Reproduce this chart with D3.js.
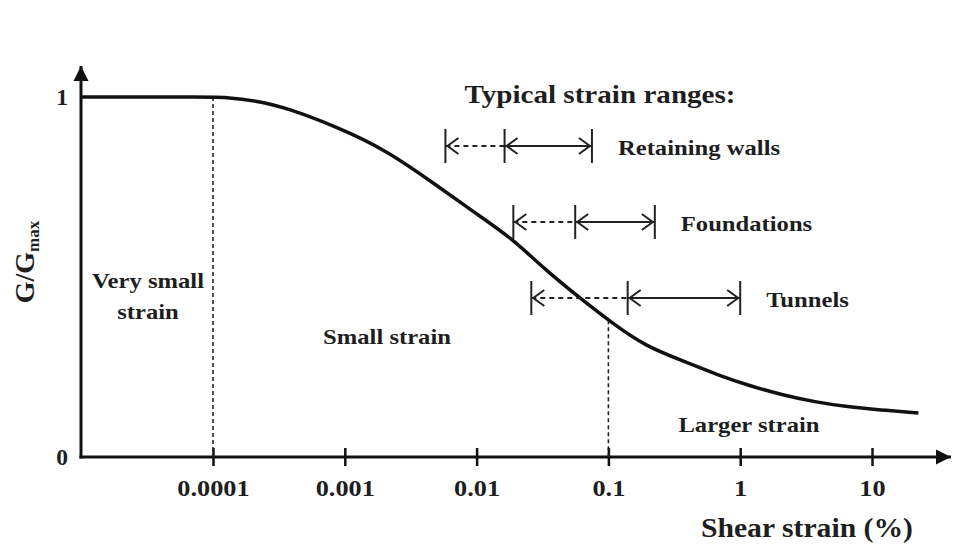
<!DOCTYPE html>
<html>
<head>
<meta charset="utf-8">
<script src="https://cdn.jsdelivr.net/npm/d3@7"></script>
<style>
  body { margin: 0; background: #fff; }
  svg text { font-family: "Liberation Serif", "Times New Roman", serif; font-weight: bold; fill: #1e1e1e; }
</style>
</head>
<body>
<svg width="953" height="547"></svg>
<script>
// shear strain (%) and G/Gmax
var strain = [0.00001, 0.0001, 0.000118, 0.00022, 0.000365, 0.000845, 0.00207, 0.00518, 0.00947, 0.0185, 0.0319, 0.0659, 0.107, 0.19, 0.379, 0.671, 1.2, 2.11, 3.68, 6.55, 11.5, 22.5];
var gRatio = [1, 1, 1, 0.989, 0.969, 0.919, 0.853, 0.75, 0.681, 0.608, 0.525, 0.431, 0.372, 0.308, 0.265, 0.228, 0.197, 0.172, 0.153, 0.139, 0.131, 0.122];

var xTicks = [0.0001, 0.001, 0.01, 0.1, 1, 10];
var xTickLabels = ["0.0001", "0.001", "0.01", "0.1", "1", "10"];
var yTicks = [0, 1];

// typical strain ranges: dashed from low to mid, solid from mid to high
var rangeNames = ["Retaining walls", "Foundations", "Tunnels"];
var rangeLow = [0.0058, 0.019, 0.026];
var rangeMid = [0.0163, 0.056, 0.14];
var rangeHigh = [0.075, 0.225, 1];

// region boundaries (strain, G/Gmax where the dashed line stops)
var boundStrain = [0.0001, 0.1];
var boundTop = [1, 0.38];

var svg = d3.select("svg");

var x = d3.scaleLog().domain([0.0001, 10]).range([213, 872]);
var y = d3.scaleLinear().domain([0, 1]).range([457, 97]);
var x0 = 81;
var stretch = "scale(1.12,1)"; // the lettering in the original is a bit wide

function label(txt, px, py, size, anchor) {
    return svg.append("text")
        .attr("transform", "translate(" + px + "," + py + ") " + stretch)
        .attr("text-anchor", anchor || "middle")
        .attr("font-size", size)
        .text(txt);
}

// arrow heads
svg.append("defs").append("marker")
    .attr("id", "arrow")
    .attr("viewBox", "0 0 10 10")
    .attr("refX", 10).attr("refY", 5)
    .attr("markerWidth", 5).attr("markerHeight", 5.2)
    .attr("markerUnits", "strokeWidth")
    .attr("orient", "auto")
    .append("path")
    .attr("d", "M0,0 L10,5 L0,10 Z")
    .attr("fill", "#111");

// x axis
var xAxis = svg.append("g")
    .attr("transform", "translate(0," + y(0) + ")")
    .call(d3.axisBottom(x).tickValues(xTicks).tickFormat(function(d, i) { return xTickLabels[i]; }).tickSize(9).tickPadding(13));
xAxis.select(".domain").remove();
xAxis.selectAll(".tick line").attr("y1", -9).attr("stroke", "#111").attr("stroke-width", 2.5);
xAxis.selectAll(".tick text").attr("font-size", 23.5).attr("fill", "#1e1e1e").attr("transform", stretch)
    .style("font-family", "Liberation Serif, serif").style("font-weight", "bold");

svg.append("line")
    .attr("x1", x0 - 1.5).attr("x2", 951)
    .attr("y1", y(0)).attr("y2", y(0))
    .attr("stroke", "#111").attr("stroke-width", 3)
    .attr("marker-end", "url(#arrow)");

// y axis
var yAxis = svg.append("g")
    .attr("transform", "translate(" + x0 + ",0)")
    .call(d3.axisLeft(y).tickValues(yTicks).tickFormat(d3.format("d")).tickSize(0).tickPadding(13));
yAxis.select(".domain").remove();
yAxis.selectAll(".tick text").attr("font-size", 23.5).attr("fill", "#1e1e1e")
    .style("font-family", "Liberation Serif, serif").style("font-weight", "bold");

svg.append("line")
    .attr("x1", x0).attr("x2", x0)
    .attr("y1", y(0) + 1.5).attr("y2", 66)
    .attr("stroke", "#111").attr("stroke-width", 3)
    .attr("marker-end", "url(#arrow)");

// dashed region boundaries
svg.selectAll(".bound")
    .data(boundStrain)
    .enter().append("line")
    .attr("class", "bound")
    .attr("x1", function(d) { return x(d); })
    .attr("x2", function(d) { return x(d); })
    .attr("y1", function(d, i) { return y(boundTop[i]); })
    .attr("y2", y(0))
    .attr("stroke", "#222")
    .attr("stroke-width", 1.6)
    .attr("stroke-dasharray", "4,3");

// curve
var pts = strain.map(function(s, i) { return [s, gRatio[i]]; });
pts[0][0] = x.invert(x0);
var line = d3.line()
    .x(function(d) { return x(d[0]); })
    .y(function(d) { return y(d[1]); })
    .curve(d3.curveBasis);

svg.append("path")
    .datum(pts)
    .attr("d", line)
    .attr("fill", "none")
    .attr("stroke", "#111")
    .attr("stroke-width", 3.5);

// typical strain ranges
label("Typical strain ranges:", 600, 103, 26);

var rows = svg.selectAll(".range")
    .data(rangeNames)
    .enter().append("g")
    .attr("class", "range")
    .attr("transform", function(d, i) { return "translate(0," + (146 + i * 76) + ")"; });

rows.append("line")
    .attr("x1", function(d, i) { return x(rangeLow[i]); })
    .attr("x2", function(d, i) { return x(rangeMid[i]); })
    .attr("stroke", "#222").attr("stroke-width", 2)
    .attr("stroke-dasharray", "5,4");

rows.append("line")
    .attr("x1", function(d, i) { return x(rangeMid[i]); })
    .attr("x2", function(d, i) { return x(rangeHigh[i]); })
    .attr("stroke", "#222").attr("stroke-width", 2);

[rangeLow, rangeMid, rangeHigh].forEach(function(arr) {
    rows.append("line")
        .attr("x1", function(d, i) { return x(arr[i]); })
        .attr("x2", function(d, i) { return x(arr[i]); })
        .attr("y1", -17).attr("y2", 17)
        .attr("stroke", "#222").attr("stroke-width", 2);
});

// open chevrons: pointing left at low and mid, right at high
[[rangeLow, 1], [rangeMid, 1], [rangeHigh, -1]].forEach(function(p) {
    rows.append("path")
        .attr("d", function(d, i) {
            var t = x(p[0][i]) + p[1] * 2;
            return "M" + (t + p[1] * 11) + ",-8 L" + t + ",0 L" + (t + p[1] * 11) + ",8";
        })
        .attr("fill", "none").attr("stroke", "#222").attr("stroke-width", 2);
});

rows.append("text")
    .attr("transform", function(d, i) { return "translate(" + (x(rangeHigh[i]) + 26) + ",9) " + stretch; })
    .attr("font-size", 22)
    .text(function(d) { return d; });

// region labels
label("Very small", 148, 288, 22);
label("strain", 148, 319, 22);
label("Small strain", 387, 344, 22);
label("Larger strain", 749, 432, 22);

// axis titles
label("Shear strain (%)", 913, 537, 26.5, "end");

var yt = svg.append("text")
    .attr("transform", "translate(34,262) rotate(-90)")
    .attr("text-anchor", "middle")
    .attr("font-size", 28);
yt.append("tspan").text("G/G");
yt.append("tspan").attr("font-size", 17).attr("dy", 5).text("max");
</script>
</body>
</html>
